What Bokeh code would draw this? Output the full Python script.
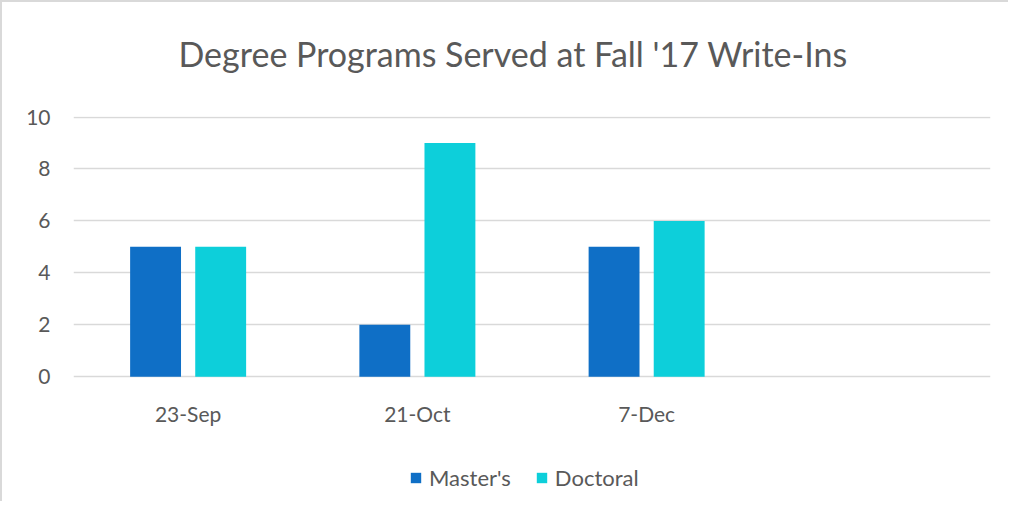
from bokeh.plotting import figure
from bokeh.models import FactorRange, Legend, LegendItem, Title, FixedTicker
from bokeh.transform import dodge
from bokeh.embed import file_html
from bokeh.resources import INLINE
from bokeh.models import ColumnDataSource

categories = ["23-Sep", "21-Oct", "7-Dec", " "]
masters = [5, 2, 5, None]
doctoral = [5, 9, 6, None]
series_names = ["Master's", "Doctoral"]
y_ticks = [0, 2, 4, 6, 8, 10]
colors = ["#0F6FC6", "#0DCFDA"]
title_text = "Degree Programs Served at Fall '17 Write-Ins"

FONT = "Lato"
GREY = "#595959"

src = ColumnDataSource(data=dict(cat=categories[:3], m=masters[:3], d=doctoral[:3]))

# frame extends below zero so the legend can sit inside it
p = figure(x_range=FactorRange(*categories), y_range=(-4.5, 10.02), title=None,
           frame_width=917, frame_height=377, output_backend="svg", toolbar_location=None,
           min_border_left=71, min_border_right=18, min_border_top=114, min_border_bottom=8)
p.outline_line_color = None

r1 = p.vbar(x=dodge("cat", -0.142, range=p.x_range), top="m", width=0.222, source=src,
            color=colors[0], line_color=None)
r2 = p.vbar(x=dodge("cat", 0.142, range=p.x_range), top="d", width=0.222, source=src,
            color=colors[1], line_color=None)

p.yaxis.ticker = FixedTicker(ticks=y_ticks)
p.xaxis.fixed_location = 0
for ax in (p.xaxis[0], p.yaxis[0]):
    ax.axis_line_color = None
    ax.major_tick_line_color = None
    ax.minor_tick_line_color = None
    ax.major_label_text_font = FONT
    ax.major_label_text_color = GREY
    ax.major_label_text_font_size = "21px"
p.yaxis.major_label_standoff = 17
p.xaxis.major_label_standoff = 18

p.xgrid.grid_line_color = None
p.ygrid.grid_line_color = "#D9D9D9"
p.ygrid.grid_line_width = 1.5

# spacer closest to the frame, then the title above it
p.add_layout(Title(text=" ", text_font_size="30px", standoff=8), "above")
p.add_layout(Title(text=title_text, text_font=FONT, text_font_size="34px",
                   text_color=GREY, text_font_style="normal", align="left", offset=105,
                   standoff=0), "above")

legend = Legend(items=[LegendItem(label=series_names[0], renderers=[r1]),
                       LegendItem(label=series_names[1], renderers=[r2])],
                orientation="horizontal", location=(336, 2),
                label_text_font=FONT, label_text_font_size="22px", label_text_color=GREY,
                glyph_width=13, glyph_height=13, spacing=24, label_standoff=7,
                border_line_color=None, background_fill_alpha=0, padding=0, margin=0)
p.add_layout(legend, "center")

p.styles = {"border-top": "2px solid #D9D9D9", "border-left": "2px solid #D9D9D9"}

open("out.html", "w").write(file_html(p, INLINE))
